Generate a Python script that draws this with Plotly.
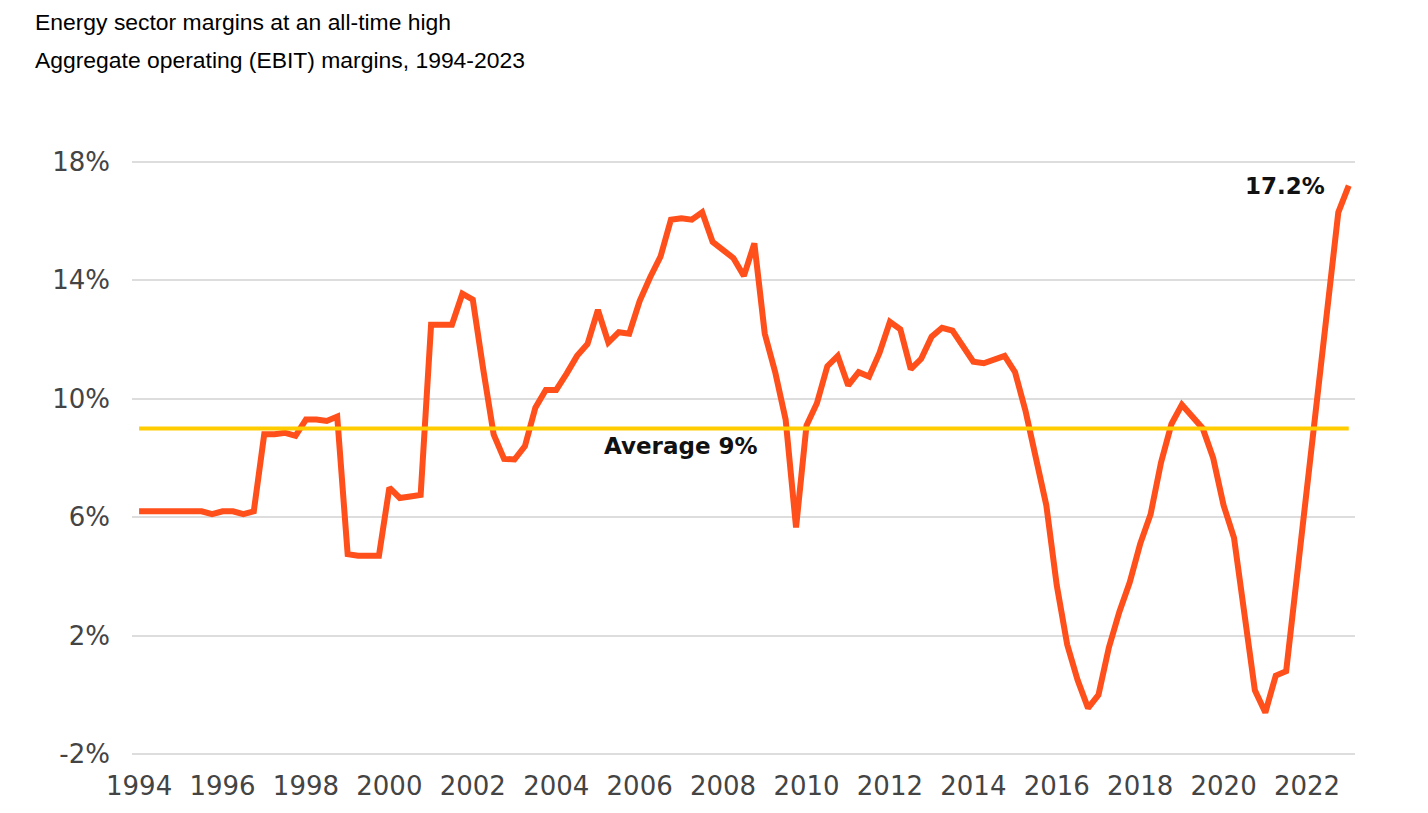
import numpy as np
import plotly.graph_objects as go

# ── DATA ──────────────────────────────────────────────────────────────────────
TITLE = "Energy sector margins at an all-time high"
SUBTITLE = "Aggregate operating (EBIT) margins, 1994-2023"

START_YEAR = 1994
# quarterly EBIT margin (%), 1994 Q1 .. 2023 Q1
MARGIN = [
    6.2, 6.2, 6.2, 6.2, 6.2, 6.2, 6.2, 6.1, 6.2, 6.2, 6.1, 6.2,
    8.8, 8.8, 8.85, 8.75,
    9.3, 9.3, 9.25, 9.4,
    4.75, 4.7, 4.7, 4.7,
    7.0, 6.65, 6.7, 6.75,
    12.5, 12.5, 12.5, 13.55,
    13.35, 11.0, 8.8, 7.97,
    7.95, 8.4, 9.7, 10.3,
    10.3, 10.85, 11.45, 11.85,
    13.0, 11.9, 12.25, 12.2,
    13.3, 14.1, 14.8, 16.05,
    16.1, 16.05, 16.3, 15.3,
    15.0, 14.75, 14.15, 15.25,
    12.2, 10.9, 9.3, 5.65,
    9.1, 9.85, 11.1, 11.45,
    10.45, 10.9, 10.75, 11.55,
    12.6, 12.35, 11.0, 11.35,
    12.1, 12.4, 12.3, 11.8,
    11.25, 11.2, 11.3, 11.45,
    10.9, 9.6, 8.0, 6.4,
    3.7, 1.7, 0.5, -0.45,
    0.0, 1.6, 2.8, 3.8,
    5.1, 6.1, 7.85, 9.15,
    9.8, 9.4, 9.0, 8.0,
    6.4, 5.3, 2.6, 0.15,
    -0.6, 0.65, 0.8, 3.9,
    7.0, 10.1, 13.2, 16.3,
    17.2,
]
AVERAGE = 9.0
LAST_LABEL = "17.2%"
AVG_LABEL = "Average 9%"

X_TICKS = list(range(1994, 2023, 2))
Y_TICKS = [-2, 2, 6, 10, 14, 18]

# ── PLOT ──────────────────────────────────────────────────────────────────────
quarters = START_YEAR + np.arange(len(MARGIN)) / 4

ORANGE = "#FF4F1A"
YELLOW = "#FFCC00"
TICK_FONT = dict(family="DejaVu Sans", size=26, color="#444444")

fig = go.Figure()
fig.add_trace(go.Scatter(
    x=quarters, y=MARGIN, mode="lines",
    line=dict(color=ORANGE, width=6),
    hoverinfo="skip", showlegend=False,
))
fig.add_trace(go.Scatter(
    x=[quarters[0], quarters[-1]], y=[AVERAGE, AVERAGE], mode="lines",
    line=dict(color=YELLOW, width=4),
    hoverinfo="skip", showlegend=False,
))

fig.add_annotation(
    x=2007.0, y=8.4, text=f"<b>{AVG_LABEL}</b>", showarrow=False,
    font=dict(family="DejaVu Sans", size=23, color="#111111"),
)
fig.add_annotation(
    x=2022.48, y=17.2, text=f"<b>{LAST_LABEL}</b>", showarrow=False,
    xanchor="right", font=dict(family="DejaVu Sans", size=23, color="#111111"),
)

# title lines, positioned in paper coords
for txt, yy in [(TITLE, 1.2285), (SUBTITLE, 1.1654)]:
    fig.add_annotation(
        xref="paper", yref="paper", x=-0.0810, y=yy, text=txt,
        showarrow=False, xanchor="left", yanchor="middle",
        font=dict(family="Liberation Sans", size=22.9, color="#000000"),
    )

fig.update_xaxes(
    range=[1993.83, 2023.15],
    tickvals=X_TICKS, ticktext=[str(y) for y in X_TICKS],
    showgrid=False, zeroline=False, showline=False,
    ticks="", tickfont=TICK_FONT, ticklabelstandoff=11,
)
fig.update_yaxes(
    range=[-2.1, 18.1],
    tickvals=Y_TICKS, ticktext=[f"{v}%" for v in Y_TICKS],
    showgrid=True, gridcolor="#DDDDDD", gridwidth=1.5,
    zeroline=False, showline=False,
    ticks="", tickfont=TICK_FONT, ticklabelstandoff=21,
)
# page body adds an 8px margin, so the figure is 8px smaller each way
fig.update_layout(
    width=1420, height=805,
    margin=dict(l=124, r=73, t=151, b=56),
    paper_bgcolor="white", plot_bgcolor="white",
    showlegend=False,
)

fig.write_html("out.html")
